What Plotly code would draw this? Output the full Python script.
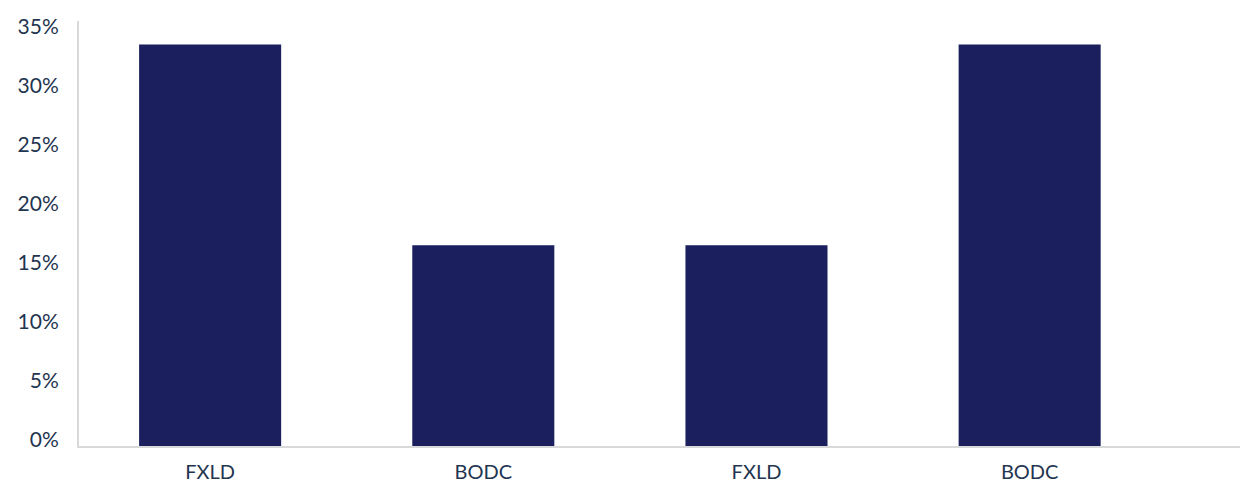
import plotly.graph_objects as go

categories = ["FXLD", "BODC", "FXLD", "BODC"]
values = [34, 17, 17, 34]
y_ticks = [0, 5, 10, 15, 20, 25, 30, 35]
y_tick_labels = [f"{v}%" for v in y_ticks]

positions = list(range(len(categories)))

fig = go.Figure(
    go.Bar(
        x=positions,
        y=values,
        marker=dict(color="#1b1f5e", line=dict(width=0)),
        width=0.52,
        hoverinfo="skip",
    )
)

font_color = "#1f3550"
fig.update_layout(
    width=1244,
    height=484,
    margin=dict(l=79, r=4, t=21, b=38, autoexpand=False),
    paper_bgcolor="white",
    plot_bgcolor="white",
    showlegend=False,
    font=dict(family="Lato, Open Sans, sans-serif", size=20, color=font_color),
)
fig.update_xaxes(
    tickmode="array",
    tickvals=positions,
    ticktext=categories,
    range=[-0.48, 3.77],
    showgrid=False,
    zeroline=False,
    showline=True,
    linecolor="#d9d9d9",
    linewidth=2,
    ticks="",
    automargin=False,
    ticklabelstandoff=7,
    tickfont=dict(size=20, color=font_color),
)
fig.update_yaxes(
    tickmode="array",
    tickvals=y_ticks,
    ticktext=y_tick_labels,
    range=[0, 36],
    showgrid=False,
    zeroline=False,
    showline=True,
    linecolor="#d9d9d9",
    linewidth=2,
    ticks="",
    automargin=False,
    ticklabelstandoff=14,
    ticklabelshift=-6,
    tickfont=dict(size=21, color=font_color),
)

fig.write_html("out.html")
